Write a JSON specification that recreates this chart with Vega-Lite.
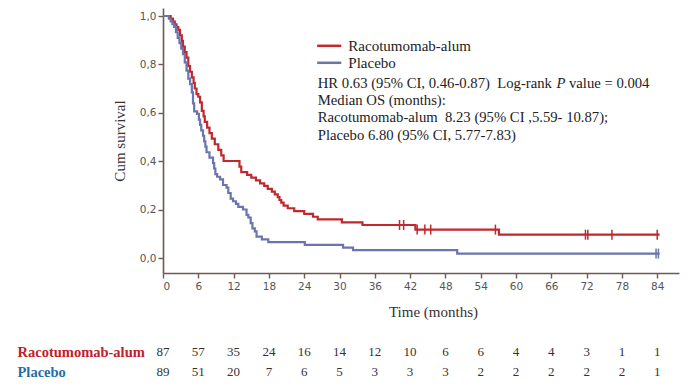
{
  "$schema": "https://vega.github.io/schema/vega-lite/v6.json",
  "padding": {"left": 17, "top": 8, "right": 5, "bottom": 0},
  "background": "white",
  "config": {"view": {"stroke": null}, "concat": {"spacing": 22}},
  "datasets": {
    "km": [
      {"group": "Racotumomab-alum", "t": 0, "s": 1.0},
      {"group": "Racotumomab-alum", "t": 1.3, "s": 0.989},
      {"group": "Racotumomab-alum", "t": 1.7, "s": 0.977},
      {"group": "Racotumomab-alum", "t": 2.0, "s": 0.966},
      {"group": "Racotumomab-alum", "t": 2.3, "s": 0.954},
      {"group": "Racotumomab-alum", "t": 2.6, "s": 0.943},
      {"group": "Racotumomab-alum", "t": 2.9, "s": 0.920},
      {"group": "Racotumomab-alum", "t": 3.2, "s": 0.897},
      {"group": "Racotumomab-alum", "t": 3.4, "s": 0.874},
      {"group": "Racotumomab-alum", "t": 3.7, "s": 0.851},
      {"group": "Racotumomab-alum", "t": 4.0, "s": 0.828},
      {"group": "Racotumomab-alum", "t": 4.3, "s": 0.793},
      {"group": "Racotumomab-alum", "t": 4.6, "s": 0.770},
      {"group": "Racotumomab-alum", "t": 4.9, "s": 0.747},
      {"group": "Racotumomab-alum", "t": 5.2, "s": 0.724},
      {"group": "Racotumomab-alum", "t": 5.4, "s": 0.701},
      {"group": "Racotumomab-alum", "t": 5.7, "s": 0.678},
      {"group": "Racotumomab-alum", "t": 6.0, "s": 0.667},
      {"group": "Racotumomab-alum", "t": 6.3, "s": 0.644},
      {"group": "Racotumomab-alum", "t": 6.6, "s": 0.609},
      {"group": "Racotumomab-alum", "t": 6.9, "s": 0.586},
      {"group": "Racotumomab-alum", "t": 7.1, "s": 0.563},
      {"group": "Racotumomab-alum", "t": 7.5, "s": 0.540},
      {"group": "Racotumomab-alum", "t": 7.9, "s": 0.517},
      {"group": "Racotumomab-alum", "t": 8.3, "s": 0.494},
      {"group": "Racotumomab-alum", "t": 8.8, "s": 0.471},
      {"group": "Racotumomab-alum", "t": 9.4, "s": 0.448},
      {"group": "Racotumomab-alum", "t": 9.9, "s": 0.425},
      {"group": "Racotumomab-alum", "t": 10.3, "s": 0.402},
      {"group": "Racotumomab-alum", "t": 13.0, "s": 0.379},
      {"group": "Racotumomab-alum", "t": 13.3, "s": 0.356},
      {"group": "Racotumomab-alum", "t": 14.3, "s": 0.345},
      {"group": "Racotumomab-alum", "t": 15.0, "s": 0.333},
      {"group": "Racotumomab-alum", "t": 15.8, "s": 0.322},
      {"group": "Racotumomab-alum", "t": 16.5, "s": 0.310},
      {"group": "Racotumomab-alum", "t": 17.2, "s": 0.299},
      {"group": "Racotumomab-alum", "t": 17.8, "s": 0.287},
      {"group": "Racotumomab-alum", "t": 18.5, "s": 0.276},
      {"group": "Racotumomab-alum", "t": 19.0, "s": 0.264},
      {"group": "Racotumomab-alum", "t": 19.5, "s": 0.253},
      {"group": "Racotumomab-alum", "t": 19.8, "s": 0.241},
      {"group": "Racotumomab-alum", "t": 20.1, "s": 0.230},
      {"group": "Racotumomab-alum", "t": 20.5, "s": 0.218},
      {"group": "Racotumomab-alum", "t": 21.2, "s": 0.207},
      {"group": "Racotumomab-alum", "t": 22.3, "s": 0.195},
      {"group": "Racotumomab-alum", "t": 24.0, "s": 0.184},
      {"group": "Racotumomab-alum", "t": 25.5, "s": 0.172},
      {"group": "Racotumomab-alum", "t": 26.3, "s": 0.161},
      {"group": "Racotumomab-alum", "t": 30.4, "s": 0.149},
      {"group": "Racotumomab-alum", "t": 33.9, "s": 0.138},
      {"group": "Racotumomab-alum", "t": 42.9, "s": 0.119},
      {"group": "Racotumomab-alum", "t": 57.1, "s": 0.098},
      {"group": "Racotumomab-alum", "t": 84.4, "s": 0.098},
      {"group": "Placebo", "t": 0, "s": 1.0},
      {"group": "Placebo", "t": 1.0, "s": 0.989},
      {"group": "Placebo", "t": 1.3, "s": 0.978},
      {"group": "Placebo", "t": 1.6, "s": 0.966},
      {"group": "Placebo", "t": 1.9, "s": 0.955},
      {"group": "Placebo", "t": 2.2, "s": 0.933},
      {"group": "Placebo", "t": 2.5, "s": 0.910},
      {"group": "Placebo", "t": 2.8, "s": 0.888},
      {"group": "Placebo", "t": 3.1, "s": 0.865},
      {"group": "Placebo", "t": 3.4, "s": 0.843},
      {"group": "Placebo", "t": 3.7, "s": 0.809},
      {"group": "Placebo", "t": 4.0, "s": 0.775},
      {"group": "Placebo", "t": 4.3, "s": 0.742},
      {"group": "Placebo", "t": 4.6, "s": 0.719},
      {"group": "Placebo", "t": 4.9, "s": 0.685},
      {"group": "Placebo", "t": 5.1, "s": 0.640},
      {"group": "Placebo", "t": 5.3, "s": 0.607},
      {"group": "Placebo", "t": 5.8, "s": 0.596},
      {"group": "Placebo", "t": 6.1, "s": 0.573},
      {"group": "Placebo", "t": 6.3, "s": 0.551},
      {"group": "Placebo", "t": 6.5, "s": 0.528},
      {"group": "Placebo", "t": 6.8, "s": 0.506},
      {"group": "Placebo", "t": 7.0, "s": 0.483},
      {"group": "Placebo", "t": 7.2, "s": 0.461},
      {"group": "Placebo", "t": 7.4, "s": 0.438},
      {"group": "Placebo", "t": 7.9, "s": 0.416},
      {"group": "Placebo", "t": 8.5, "s": 0.393},
      {"group": "Placebo", "t": 8.7, "s": 0.371},
      {"group": "Placebo", "t": 8.9, "s": 0.348},
      {"group": "Placebo", "t": 9.2, "s": 0.337},
      {"group": "Placebo", "t": 9.7, "s": 0.326},
      {"group": "Placebo", "t": 10.2, "s": 0.303},
      {"group": "Placebo", "t": 10.8, "s": 0.292},
      {"group": "Placebo", "t": 11.1, "s": 0.270},
      {"group": "Placebo", "t": 11.5, "s": 0.247},
      {"group": "Placebo", "t": 11.9, "s": 0.236},
      {"group": "Placebo", "t": 12.4, "s": 0.225},
      {"group": "Placebo", "t": 12.8, "s": 0.213},
      {"group": "Placebo", "t": 13.6, "s": 0.202},
      {"group": "Placebo", "t": 14.2, "s": 0.180},
      {"group": "Placebo", "t": 14.5, "s": 0.169},
      {"group": "Placebo", "t": 14.9, "s": 0.146},
      {"group": "Placebo", "t": 15.2, "s": 0.124},
      {"group": "Placebo", "t": 15.6, "s": 0.112},
      {"group": "Placebo", "t": 15.9, "s": 0.090},
      {"group": "Placebo", "t": 16.8, "s": 0.079},
      {"group": "Placebo", "t": 17.9, "s": 0.067},
      {"group": "Placebo", "t": 24.1, "s": 0.056},
      {"group": "Placebo", "t": 30.6, "s": 0.045},
      {"group": "Placebo", "t": 32.3, "s": 0.034},
      {"group": "Placebo", "t": 50.0, "s": 0.020},
      {"group": "Placebo", "t": 84.4, "s": 0.020}
    ],
    "censor": [
      {"group": "Racotumomab-alum", "t": 40.2, "s": 0.138},
      {"group": "Racotumomab-alum", "t": 40.9, "s": 0.138},
      {"group": "Racotumomab-alum", "t": 43.2, "s": 0.119},
      {"group": "Racotumomab-alum", "t": 44.5, "s": 0.119},
      {"group": "Racotumomab-alum", "t": 45.5, "s": 0.119},
      {"group": "Racotumomab-alum", "t": 56.5, "s": 0.119},
      {"group": "Racotumomab-alum", "t": 71.8, "s": 0.098},
      {"group": "Racotumomab-alum", "t": 72.2, "s": 0.098},
      {"group": "Racotumomab-alum", "t": 76.3, "s": 0.098},
      {"group": "Racotumomab-alum", "t": 84.0, "s": 0.098},
      {"group": "Placebo", "t": 83.8, "s": 0.020},
      {"group": "Placebo", "t": 84.2, "s": 0.020}
    ],
    "legline": [
      {"group": "Racotumomab-alum", "t": 26.2, "t2": 30.3, "s": 0.877},
      {"group": "Placebo", "t": 26.2, "t2": 30.3, "s": 0.807}
    ],
    "legtext": [
      {"t": 31.5, "s": 0.877, "label": "Racotumomab-alum"},
      {"t": 31.5, "s": 0.807, "label": "Placebo"}
    ],
    "notes": [
      {"t": 26.3, "s": 0.72, "label": "HR 0.63 (95% CI, 0.46-0.87)\u00a0 Log-rank"},
      {"t": 26.3, "s": 0.65, "label": "Median OS (months):"},
      {"t": 26.3, "s": 0.58, "label": "Racotumomab-alum\u00a0 8.23 (95% CI ,5.59- 10.87);"},
      {"t": 26.3, "s": 0.505, "label": "Placebo 6.80 (95% CI, 5.77-7.83)"}
    ],
    "hrp": [{"t": 67.65, "s": 0.72, "label": "P"}],
    "hr3": [{"t": 69.0, "s": 0.72, "label": "value = 0.004"}],
    "risk": [
      {"group": "Racotumomab-alum", "t": 0, "n": 87},
      {"group": "Racotumomab-alum", "t": 6, "n": 57},
      {"group": "Racotumomab-alum", "t": 12, "n": 35},
      {"group": "Racotumomab-alum", "t": 18, "n": 24},
      {"group": "Racotumomab-alum", "t": 24, "n": 16},
      {"group": "Racotumomab-alum", "t": 30, "n": 14},
      {"group": "Racotumomab-alum", "t": 36, "n": 12},
      {"group": "Racotumomab-alum", "t": 42, "n": 10},
      {"group": "Racotumomab-alum", "t": 48, "n": 6},
      {"group": "Racotumomab-alum", "t": 54, "n": 6},
      {"group": "Racotumomab-alum", "t": 60, "n": 4},
      {"group": "Racotumomab-alum", "t": 66, "n": 4},
      {"group": "Racotumomab-alum", "t": 72, "n": 3},
      {"group": "Racotumomab-alum", "t": 78, "n": 1},
      {"group": "Racotumomab-alum", "t": 84, "n": 1},
      {"group": "Placebo", "t": 0, "n": 89},
      {"group": "Placebo", "t": 6, "n": 51},
      {"group": "Placebo", "t": 12, "n": 20},
      {"group": "Placebo", "t": 18, "n": 7},
      {"group": "Placebo", "t": 24, "n": 6},
      {"group": "Placebo", "t": 30, "n": 5},
      {"group": "Placebo", "t": 36, "n": 3},
      {"group": "Placebo", "t": 42, "n": 3},
      {"group": "Placebo", "t": 48, "n": 3},
      {"group": "Placebo", "t": 54, "n": 2},
      {"group": "Placebo", "t": 60, "n": 2},
      {"group": "Placebo", "t": 66, "n": 2},
      {"group": "Placebo", "t": 72, "n": 2},
      {"group": "Placebo", "t": 78, "n": 2},
      {"group": "Placebo", "t": 84, "n": 1}
    ]
  },
  "vconcat": [
    {
      "width": 516,
      "height": 265,
      "encoding": {
        "x": {
          "field": "t", "type": "quantitative",
          "scale": {"domain": [0, 87.7], "nice": false, "zero": false},
          "axis": {
            "values": [0, 6, 12, 18, 24, 30, 36, 42, 48, 54, 60, 66, 72, 78, 84],
            "labelOverlap": false,
            "title": "Time (months)",
            "titleFont": "Liberation Serif", "titleFontSize": 15, "titleFontWeight": "normal", "titleColor": "#333",
            "titlePadding": 13, "titleX": 270,
            "labelFont": "DejaVu Sans", "labelFontSize": 10.5, "labelColor": "#555",
            "tickSize": 5, "labelPadding": 3,
            "domainColor": "#6e5a50", "tickColor": "#6e5a50", "domainWidth": 1.6, "tickWidth": 1.4,
            "grid": false
          }
        },
        "y": {
          "field": "s", "type": "quantitative",
          "scale": {"domain": [-0.06, 1.033], "nice": false, "zero": false},
          "axis": {
            "values": [0, 0.2, 0.4, 0.6, 0.8, 1.0],
            "labelOverlap": false,
            "labelExpr": "replace(format(datum.value, '.1f'), '.', ',')",
            "title": "Cum survival",
            "titleFont": "Liberation Serif", "titleFontSize": 15, "titleFontWeight": "normal", "titleColor": "#333",
            "titlePadding": 12,
            "labelFont": "DejaVu Sans", "labelFontSize": 10.5, "labelColor": "#555",
            "tickSize": 5, "labelPadding": 2,
            "domainColor": "#6e5a50", "tickColor": "#6e5a50", "domainWidth": 1.6, "tickWidth": 1.4,
            "grid": false
          }
        }
      },
      "layer": [
        {
          "data": {"name": "km"},
          "mark": {"type": "line", "interpolate": "step-after", "strokeWidth": 2.2},
          "encoding": {
            "color": {
              "field": "group", "type": "nominal",
              "scale": {"domain": ["Racotumomab-alum", "Placebo"], "range": ["#C0282D", "#6B74AC"]},
              "legend": null
            }
          }
        },
        {
          "data": {"name": "censor"},
          "mark": {"type": "point", "shape": "M0,-1L0,1", "size": 100, "filled": false, "strokeWidth": 1.5, "opacity": 1},
          "encoding": {
            "color": {"field": "group", "type": "nominal", "legend": null}
          }
        },
        {
          "data": {"name": "legline"},
          "mark": {"type": "rule", "strokeWidth": 2.5},
          "encoding": {
            "x2": {"field": "t2"},
            "color": {"field": "group", "type": "nominal", "legend": null}
          }
        },
        {
          "data": {"name": "legtext"},
          "mark": {"type": "text", "align": "left", "baseline": "middle", "font": "Liberation Serif", "fontSize": 15, "color": "#222"},
          "encoding": {"text": {"field": "label"}}
        },
        {
          "data": {"name": "notes"},
          "mark": {"type": "text", "align": "left", "baseline": "middle", "font": "Liberation Serif", "fontSize": 14.7, "color": "#222"},
          "encoding": {"text": {"field": "label"}}
        },
        {
          "data": {"name": "hrp"},
          "mark": {"type": "text", "align": "center", "baseline": "middle", "font": "Liberation Serif", "fontSize": 14.7, "fontStyle": "italic", "color": "#222"},
          "encoding": {"text": {"field": "label"}}
        },
        {
          "data": {"name": "hr3"},
          "mark": {"type": "text", "align": "left", "baseline": "middle", "font": "Liberation Serif", "fontSize": 14.7, "color": "#222"},
          "encoding": {"text": {"field": "label"}}
        }
      ]
    },
    {
      "width": 516,
      "height": 40,
      "data": {"name": "risk"},
      "mark": {"type": "text", "align": "center", "baseline": "middle", "font": "Liberation Serif", "fontSize": 13, "color": "#333"},
      "encoding": {
        "x": {"field": "t", "type": "quantitative", "scale": {"domain": [0, 87.7], "nice": false, "zero": false}, "axis": null},
        "y": {
          "field": "group", "type": "nominal",
          "scale": {"domain": ["Racotumomab-alum", "Placebo"], "paddingInner": 0, "paddingOuter": 0},
          "axis": {
            "title": null, "domain": false, "ticks": false, "tickSize": 0,
            "labelAlign": "left", "labelPadding": 146,
            "labelFont": "Liberation Serif", "labelFontSize": 14.5, "labelFontWeight": "bold",
            "labelColor": {"condition": {"test": "datum.value === 'Placebo'", "value": "#1F6FA8"}, "value": "#C0202A"}
          }
        },
        "text": {"field": "n", "type": "quantitative"}
      }
    }
  ]
}
